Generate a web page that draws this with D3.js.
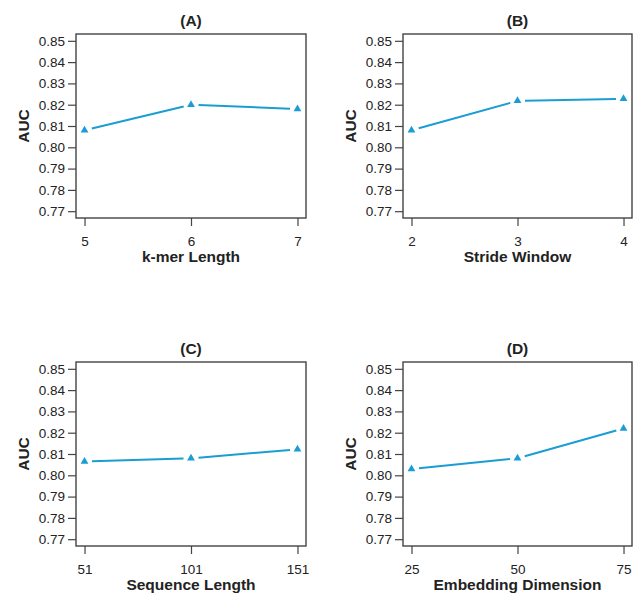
<!DOCTYPE html>
<html><head><meta charset="utf-8">
<script src="https://cdn.jsdelivr.net/npm/d3@7"></script>
<style>
body{margin:0;background:#fff;}
text{font-family:"Liberation Sans",Arial,sans-serif;fill:#222;}
</style></head>
<body>
<svg id="chart" width="634" height="593"></svg>
<script>
const yTicks = [0.77,0.78,0.79,0.80,0.81,0.82,0.83,0.84,0.85];
const yLabel = "AUC";

const titles = ["(A)","(B)","(C)","(D)"];
const xTitles = ["k-mer Length","Stride Window","Sequence Length","Embedding Dimension"];

const kmerLength = [5,6,7];
const aucA = [0.808,0.820,0.818];
const strideWindow = [2,3,4];
const aucB = [0.808,0.8218,0.8228];
const sequenceLength = [51,101,151];
const aucC = [0.8065,0.808,0.8122];
const embeddingDim = [25,50,75];
const aucD = [0.803,0.808,0.822];

const xsets = [kmerLength,strideWindow,sequenceLength,embeddingDim];
const ysets = [aucA,aucB,aucC,aucD];

const lineColor = "#1a9dd3";
const boxColor = "#444";

const boxes = [
  {l:76,r:306,t:34,b:218},
  {l:403,r:632,t:34,b:218},
  {l:76,r:306,t:362,b:546},
  {l:403,r:632,t:362,b:546}
];

const svg = d3.select("#chart");

boxes.forEach((bx,i)=>{
  const xs = xsets[i], ys = ysets[i];
  const xmin = d3.min(xs), xmax = d3.max(xs);
  const xpad = (xmax-xmin)*0.04;
  const x = d3.scaleLinear().domain([xmin-xpad,xmax+xpad]).range([bx.l,bx.r]);
  const ypad = (0.85-0.77)*0.04;
  const y = d3.scaleLinear().domain([0.77-ypad,0.85+ypad]).range([bx.b,bx.t]);

  const g = svg.append("g");

  const ya = g.append("g").attr("transform",`translate(${bx.l},0)`)
    .call(d3.axisLeft(y).tickValues(yTicks).tickFormat(d3.format(".2f")).tickSize(8).tickPadding(3));
  ya.select(".domain").remove();
  ya.selectAll("line").attr("stroke",boxColor).attr("stroke-width",1.2);
  ya.selectAll("text").style("font-size","13.5px").attr("fill","#222");

  const xa = g.append("g").attr("transform",`translate(0,${bx.b})`)
    .call(d3.axisBottom(x).tickValues(xs).tickFormat(d3.format("d")).tickSize(8).tickPadding(10));
  xa.select(".domain").remove();
  xa.selectAll("line").attr("stroke",boxColor).attr("stroke-width",1.2);
  xa.selectAll("text").style("font-size","13.5px").attr("fill","#222");

  g.append("rect").attr("x",bx.l).attr("y",bx.t).attr("width",bx.r-bx.l).attr("height",bx.b-bx.t)
    .attr("fill","none").attr("stroke",boxColor).attr("stroke-width",1.4);

  g.append("text").attr("x",(bx.l+bx.r)/2).attr("y",bx.t-8).attr("text-anchor","middle")
    .style("font-size","15.5px").style("font-weight","bold").text(titles[i]);
  g.append("text").attr("x",(bx.l+bx.r)/2).attr("y",bx.b+44).attr("text-anchor","middle")
    .style("font-size","15.5px").style("font-weight","bold").text(xTitles[i]);
  const cy = (bx.t+bx.b)/2;
  g.append("text").attr("transform",`translate(${bx.l-47},${cy}) rotate(-90)`).attr("text-anchor","middle")
    .style("font-size","15.5px").style("font-weight","bold").text(yLabel);

  const gap = 7.5;
  for(let k=0;k<xs.length-1;k++){
    const x0=x(xs[k]), y0=y(ys[k]), x1=x(xs[k+1]), y1=y(ys[k+1]);
    const dx=x1-x0, dy=y1-y0, len=Math.hypot(dx,dy);
    const ux=dx/len, uy=dy/len;
    g.append("line").attr("x1",x0+ux*gap).attr("y1",y0+uy*gap)
      .attr("x2",x1-ux*gap).attr("y2",y1-uy*gap)
      .attr("stroke",lineColor).attr("stroke-width",2);
  }
  const r = 4.5;
  g.selectAll("path.pt").data(xs.map((v,k)=>[v,ys[k]])).enter().append("path")
    .attr("class","pt")
    .attr("d",d=>{
      const px=x(d[0]), py=y(d[1]);
      const xc=r*Math.sqrt(3)/2, yc=r/2;
      return `M${px},${py-r}L${px+xc},${py+yc}L${px-xc},${py+yc}Z`;
    })
    .attr("fill",lineColor);
});
</script>
</body></html>
